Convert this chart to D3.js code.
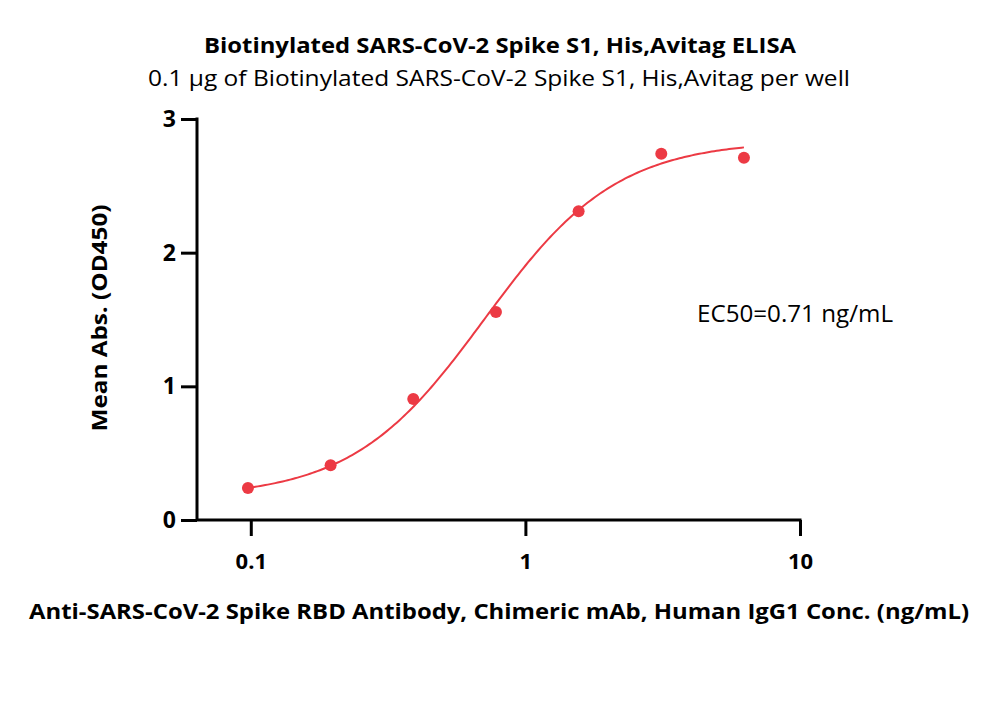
<!DOCTYPE html>
<html><head><meta charset="utf-8">
<script src="https://cdn.jsdelivr.net/npm/d3@7"></script>
<style>body{margin:0;background:#fff}svg{display:block}text{font-family:"Open Sans",Lato,sans-serif}</style>
</head><body>
<script>
const concentrations = [0.09766, 0.1953, 0.3906, 0.78125, 1.5625, 3.125, 6.25];
const absorbance = [0.24, 0.41, 0.905, 1.556, 2.31, 2.74, 2.71];
const xTicks = [0.1, 1, 10];
const xTickLabels = ["0.1", "1", "10"];
const yTicks = [0, 1, 2, 3];
const yTickLabels = ["0", "1", "2", "3"];
// 4PL fit parameters
const fitBottom = 0.167, fitTop = 2.84, fitEC50 = 0.71, fitHill = 1.8;

const W = 1000, H = 726;
const svg = d3.select("body").append("svg").attr("width", W).attr("height", H);
const x = d3.scaleLog().domain([0.0637, 10]).range([197, 800]);
const y = d3.scaleLinear().domain([0, 3]).range([520, 119]);
const red = "#ec3a44";

// axes
const gx = svg.append("g").attr("transform", "translate(0,520)")
  .call(d3.axisBottom(x).tickValues(xTicks).tickFormat((d,i)=>xTickLabels[i]).tickSize(16).tickSizeOuter(0));
const gy = svg.append("g").attr("transform", "translate(197,0)")
  .call(d3.axisLeft(y).tickValues(yTicks).tickFormat((d,i)=>yTickLabels[i]).tickSize(16).tickSizeOuter(0).tickPadding(5));
[gx, gy].forEach(g => {
  g.selectAll("path,line").attr("stroke", "#000").attr("stroke-width", 3);
  g.selectAll("text").attr("font-size", 23).attr("font-weight", "bold").attr("fill", "#000");
});
gx.selectAll("text").attr("y", 49).attr("dy", null).attr("font-size", 22);
gx.select(".domain").attr("d", "M197,0H801.5");
gy.select(".domain").attr("d", "M0,520V117.5");

// fitted curve
const fit = c => fitBottom + (fitTop - fitBottom) / (1 + Math.pow(fitEC50 / c, fitHill));
const lo = Math.log10(concentrations[0]), hi = Math.log10(concentrations[concentrations.length-1]);
const curve = d3.range(0, 201).map(i => Math.pow(10, lo + (hi - lo) * i / 200));
svg.append("path").datum(curve)
  .attr("d", d3.line().x(c => x(c)).y(c => y(fit(c))))
  .attr("fill", "none").attr("stroke", red).attr("stroke-width", 2);

svg.selectAll("circle.pt").data(concentrations).join("circle")
  .attr("cx", c => x(c)).attr("cy", (c,i) => y(absorbance[i])).attr("r", 6).attr("fill", red);

// texts
function txt(xp, yp, s, size, bold, anchor, w) {
  const t = svg.append("text").attr("x", xp).attr("y", yp).attr("text-anchor", anchor)
    .attr("font-size", size).attr("font-weight", bold ? "bold" : "normal").attr("fill", "#000").text(s);
  if (w) t.attr("textLength", w).attr("lengthAdjust", "spacingAndGlyphs");
  return t;
}
txt(500, 53, "Biotinylated SARS-CoV-2 Spike S1, His,Avitag ELISA", 21, true, "middle", 592);
txt(499, 86, "0.1 μg of Biotinylated SARS-CoV-2 Spike S1, His,Avitag per well", 21, false, "middle", 702);
txt(697, 322, "EC50=0.71 ng/mL", 23, false, "start", 196);
txt(499, 619, "Anti-SARS-CoV-2 Spike RBD Antibody, Chimeric mAb, Human IgG1 Conc. (ng/mL)", 21, true, "middle", 940);
svg.append("text").attr("transform", "translate(107,318) rotate(-90)").attr("text-anchor", "middle")
  .attr("font-size", 22).attr("font-weight", "bold").attr("textLength", 227).attr("lengthAdjust", "spacingAndGlyphs")
  .text("Mean Abs. (OD450)");
</script>
</body></html>
